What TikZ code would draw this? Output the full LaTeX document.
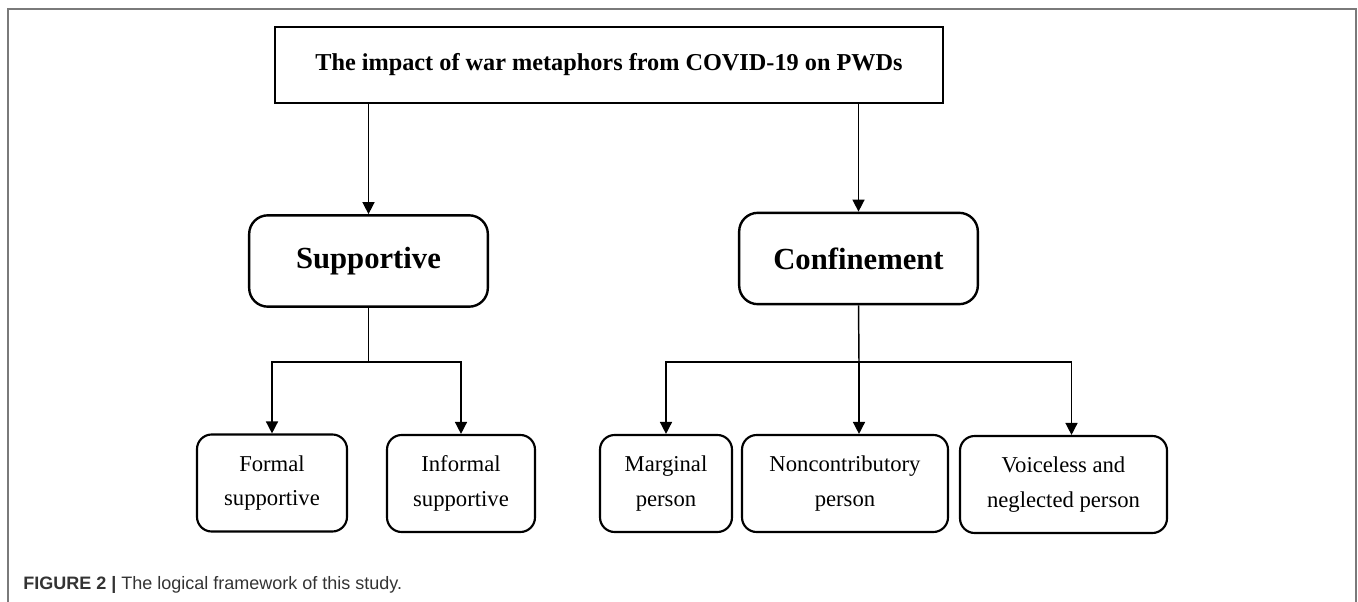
\documentclass[tikz,border=0pt]{standalone}
\usepackage{fontspec}
\setmainfont{Liberation Serif}
\newfontfamily\capfont{Liberation Sans}
\usetikzlibrary{arrows.meta}
\definecolor{framegray}{HTML}{7A7A7A}
\definecolor{captiongray}{HTML}{333333}

\begin{document}
\begin{tikzpicture}[x=0.75pt, y=-0.75pt, >={Triangle[width=9pt,length=9pt]},
    titlebox/.style={draw, line width=2pt, inner sep=0pt, minimum width=501pt, minimum height=57pt,
        font=\fontsize{18.2}{21}\selectfont\bfseries},
    mainbox/.style={draw, line width=1.8pt, rounded corners=14pt, inner sep=0pt, minimum width=179pt,
        minimum height=68.5pt, font=\fontsize{23}{28}\selectfont\bfseries},
    subbox/.style={draw, line width=1.6pt, rounded corners=11pt, inner sep=0pt, align=center,
        minimum height=72.75pt, font=\fontsize{17}{26}\selectfont},
    link/.style={line width=1.1pt}]

    \useasboundingbox (0,0) rectangle (1358,602);
    \draw[framegray, line width=1.5pt] (8,602) -- (8,9) -- (1356,9) -- (1356,602);

    % top
    \node[titlebox] (title) at (609,65) {The impact of war metaphors from COVID-19 on PWDs};

    % second level
    \node[mainbox] (sup) at (368.5,261) {Supportive};
    \node[mainbox] (conf) at (858.5,258.5) {Confinement};

    % third level
    \node[subbox, minimum width=112.5pt] (formal) at (272,483) {Formal\\supportive};
    \node[subbox, minimum width=111pt] (informal) at (461,483.5) {Informal\\supportive};
    \node[subbox, minimum width=99pt] (marginal) at (666,483.5) {Marginal\\person};
    \node[subbox, minimum width=154.5pt] (noncon) at (845,483.5) {Noncontributory\\person};
    \node[subbox, minimum width=155.25pt] (voiceless) at (1063.5,484.5) {Voiceless and\\neglected person};

    \draw[link, ->] (sup.north |- title.south) -- (sup.north);
    \draw[link, ->] (conf.north |- title.south) -- (conf.north);

    \coordinate (supfork) at (368.5,362);
    \draw[link] (sup.south) -- (supfork);
    \draw[link, ->] (supfork) -| (formal.north);
    \draw[link, ->] (supfork) -| (informal.north);

    \coordinate (confork) at (859,362);
    \draw[link] (conf.south) -- (confork);
    \draw[link, ->] (confork) -| (marginal.north);
    \draw[link, ->] (confork) -- (confork |- noncon.north);
    \draw[link, ->] (confork) -| ([xshift=6pt]voiceless.north);

    % caption
    \node[anchor=base west, inner sep=0pt, text=captiongray, font=\capfont\fontsize{13.5}{16}\selectfont]
        (caption) at (23,589) {\textbf{FIGURE 2 |} The logical framework of this study.};
\end{tikzpicture}
\end{document}
